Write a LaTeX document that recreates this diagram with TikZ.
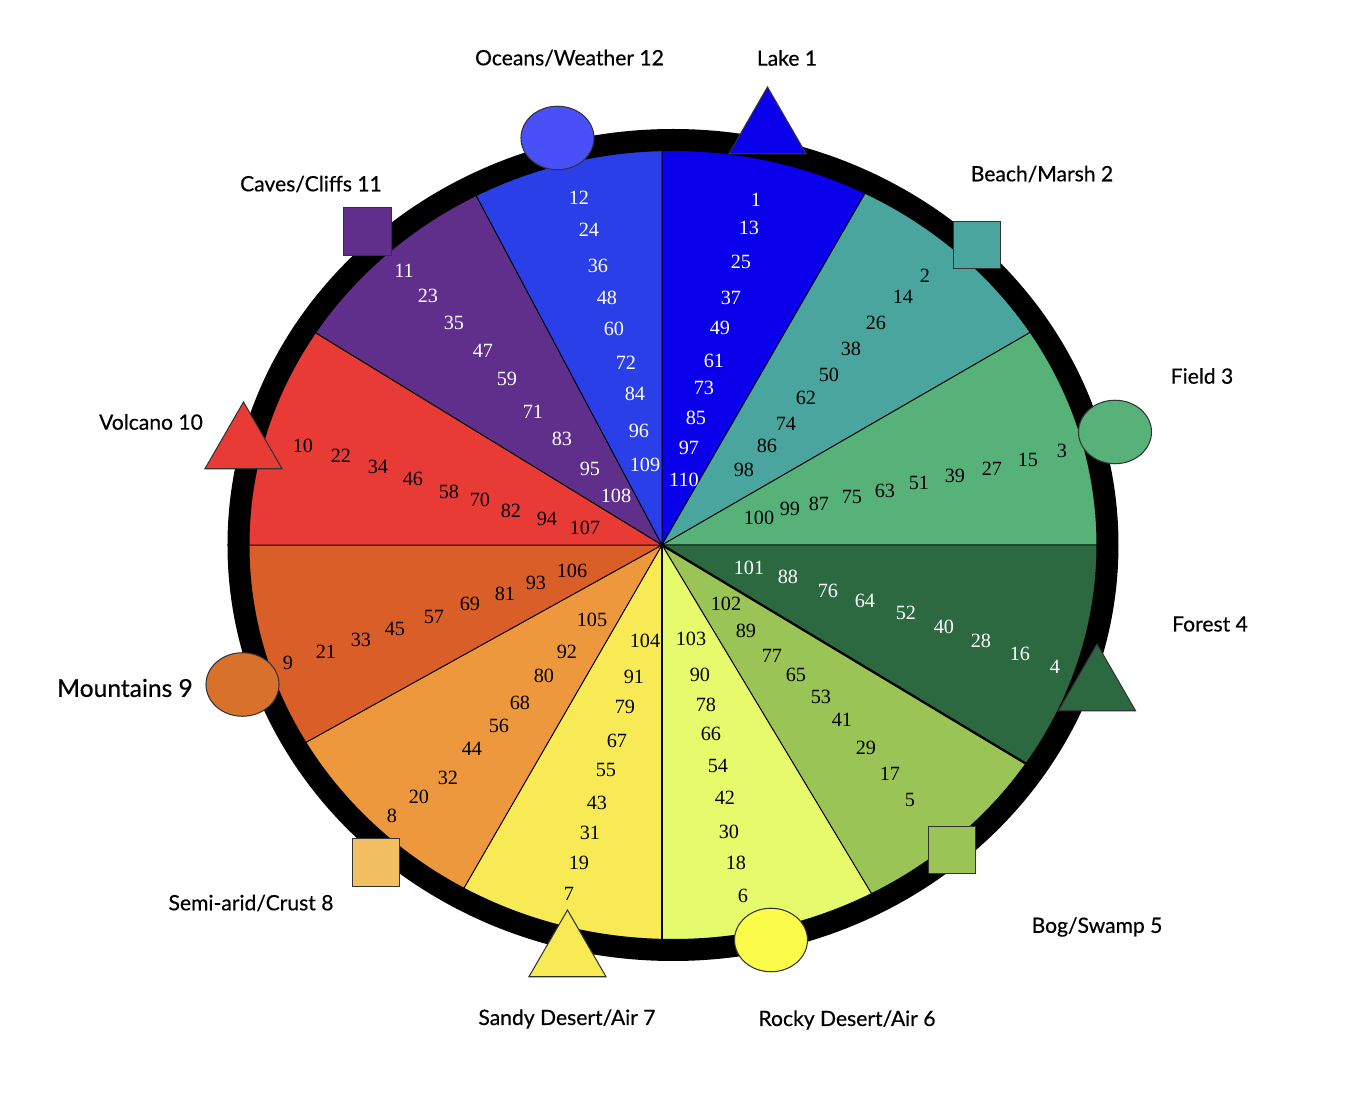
\documentclass[tikz,border=0pt]{standalone}
\usepackage{fontspec}
\setmainfont{Liberation Serif}
\newfontfamily\labelfont[FakeBold=0.5]{Lato}
\usetikzlibrary{shapes.geometric}
\definecolor{cLake}{HTML}{0A00EB}
\definecolor{cBeach}{HTML}{4AA59F}
\definecolor{cField}{HTML}{57B27A}
\definecolor{cForest}{HTML}{2C6940}
\definecolor{cBog}{HTML}{9AC455}
\definecolor{cRocky}{HTML}{E6FB6B}
\definecolor{cRockyMark}{HTML}{FBFB4A}
\definecolor{cSandy}{HTML}{F8EA55}
\definecolor{cSemi}{HTML}{EE983E}
\definecolor{cSemiMark}{HTML}{F2C061}
\definecolor{cMount}{HTML}{DA5E28}
\definecolor{cMountMark}{HTML}{D8722B}
\definecolor{cVolcano}{HTML}{E83B36}
\definecolor{cCaves}{HTML}{5F2F8B}
\definecolor{cOcean}{HTML}{2B3FE8}
\definecolor{cOceanMark}{HTML}{4A50F7}

\begin{document}
\begin{tikzpicture}[
    num/.style={font=\fontsize{11.5}{12}\selectfont, inner sep=0pt},
    numw/.style={num, text=white},
    lbl/.style={font=\labelfont\fontsize{12}{14}\selectfont, inner sep=0pt},
    wedgebox/.style={draw=black, line width=0.5pt},
    tri/.style={regular polygon, regular polygon sides=3, draw=black!80,
                line width=0.6pt, minimum size=1.78cm, inner sep=0pt},
    oval/.style={ellipse, draw=black!80, line width=0.6pt,
                 minimum width=1.46cm, minimum height=1.27cm, inner sep=0pt},
    sq/.style={rectangle, draw=black!80, line width=0.6pt,
               minimum size=0.95cm, inner sep=0pt},
    ring/.style={draw=black, line width=0.44cm},
]
\useasboundingbox (-13.24,-11.50) rectangle (13.88,10.90);

\coordinate (O) at (0,0);      % apex of the wedges
\coordinate (C) at (0.22,0);   % centre of the ring

% ================================================================
%  WEDGES
% ================================================================

\begin{scope}
\clip (C) ellipse [x radius=8.6, y radius=8.0];
\filldraw[wedgebox, fill=cLake]    (O) -- (60:11)    arc[start angle=60,    end angle=90,    radius=11] -- cycle;
\filldraw[wedgebox, fill=cBeach]   (O) -- (30:11)    arc[start angle=30,    end angle=60,    radius=11] -- cycle;
\filldraw[wedgebox, fill=cField]   (O) -- (0:11)     arc[start angle=0,     end angle=30,    radius=11] -- cycle;
\filldraw[wedgebox, fill=cForest]  (O) -- (-31:11)   arc[start angle=-31,   end angle=0,     radius=11] -- cycle;
\filldraw[wedgebox, fill=cBog]     (O) -- (-59:11)   arc[start angle=-59,   end angle=-31,   radius=11] -- cycle;
\filldraw[wedgebox, fill=cRocky]   (O) -- (-90:11)   arc[start angle=-90,   end angle=-59,   radius=11] -- cycle;
\filldraw[wedgebox, fill=cSandy]   (O) -- (-120:11)  arc[start angle=-120,  end angle=-90,   radius=11] -- cycle;
\filldraw[wedgebox, fill=cSemi]    (O) -- (-151:11)  arc[start angle=-151,  end angle=-120,  radius=11] -- cycle;
\filldraw[wedgebox, fill=cMount]   (O) -- (180:11)   arc[start angle=180,   end angle=209,   radius=11] -- cycle;
\filldraw[wedgebox, fill=cVolcano] (O) -- (148.5:11) arc[start angle=148.5, end angle=180,   radius=11] -- cycle;
\filldraw[wedgebox, fill=cCaves]   (O) -- (118:11)   arc[start angle=118,   end angle=148.5, radius=11] -- cycle;
\filldraw[wedgebox, fill=cOcean]   (O) -- (90:11)    arc[start angle=90,    end angle=118,   radius=11] -- cycle;
\draw[line width=1.3pt] (O) -- (-31:11);
\draw[line width=1.3pt] (O) -- (-90:11);
\end{scope}

% outer ring
\draw[ring] (C) ellipse [x radius=8.69, y radius=8.10];

% ================================================================
%  NUMBERS
% ================================================================

\foreach \n/\x/\y in {1/1.88/6.90, 13/1.74/6.34, 25/1.58/5.66, 37/1.38/4.94, 49/1.16/4.34,
    61/1.04/3.68, 73/0.84/3.14, 85/0.68/2.54, 97/0.54/1.94, 110/0.44/1.30}
  \node[numw] (n\n) at (\x,\y) {\n};
\foreach \n/\x/\y in {2/5.26/5.38, 14/4.82/4.96, 26/4.28/4.44, 38/3.78/3.92, 50/3.34/3.40,
    62/2.88/2.94, 74/2.48/2.42, 86/2.10/1.98, 98/1.64/1.50}
  \node[num] (n\n) at (\x,\y) {\n};
\foreach \n/\x/\y in {3/8.00/1.88, 15/7.32/1.70, 27/6.60/1.52, 39/5.86/1.38, 51/5.14/1.24,
    63/4.46/1.08, 75/3.80/0.96, 87/3.14/0.82, 99/2.56/0.72, 100/1.94/0.54}
  \node[num] (n\n) at (\x,\y) {\n};
\foreach \n/\x/\y in {4/7.86/-2.44, 16/7.16/-2.18, 28/6.38/-1.92, 40/5.64/-1.64, 52/4.88/-1.36,
    64/4.06/-1.12, 76/3.32/-0.92, 88/2.52/-0.64, 101/1.74/-0.46}
  \node[numw] (n\n) at (\x,\y) {\n};
\foreach \n/\x/\y in {5/4.96/-5.10, 17/4.56/-4.58, 29/4.08/-4.06, 41/3.60/-3.50, 53/3.18/-3.04,
    65/2.68/-2.60, 77/2.20/-2.22, 89/1.68/-1.72, 102/1.28/-1.18}
  \node[num] (n\n) at (\x,\y) {\n};
\foreach \n/\x/\y in {6/1.62/-7.02, 18/1.48/-6.36, 30/1.34/-5.74, 42/1.26/-5.06, 54/1.12/-4.42,
    66/0.98/-3.78, 78/0.88/-3.20, 90/0.76/-2.60, 103/0.58/-1.88}
  \node[num] (n\n) at (\x,\y) {\n};
\foreach \n/\x/\y in {7/-1.86/-6.98, 19/-1.66/-6.36, 31/-1.44/-5.76, 43/-1.30/-5.16, 55/-1.12/-4.50,
    67/-0.90/-3.92, 79/-0.74/-3.24, 91/-0.56/-2.64, 104/-0.34/-1.92}
  \node[num] (n\n) at (\x,\y) {\n};
\foreach \n/\x/\y in {8/-5.40/-5.42, 20/-4.86/-5.04, 32/-4.28/-4.66, 44/-3.80/-4.08, 56/-3.26/-3.62,
    68/-2.84/-3.16, 80/-2.36/-2.62, 92/-1.90/-2.14, 105/-1.40/-1.50}
  \node[num] (n\n) at (\x,\y) {\n};
\foreach \n/\x/\y in {9/-7.48/-2.36, 21/-6.72/-2.14, 33/-6.02/-1.90, 45/-5.34/-1.68, 57/-4.56/-1.44,
    69/-3.84/-1.18, 81/-3.14/-0.98, 93/-2.52/-0.76, 106/-1.80/-0.52}
  \node[num] (n\n) at (\x,\y) {\n};
\foreach \n/\x/\y in {10/-7.18/1.98, 22/-6.42/1.78, 34/-5.68/1.56, 46/-4.98/1.32, 58/-4.26/1.06,
    70/-3.64/0.90, 82/-3.02/0.68, 94/-2.30/0.52, 107/-1.54/0.34}
  \node[num] (n\n) at (\x,\y) {\n};
\foreach \n/\x/\y in {11/-5.16/5.48, 23/-4.68/4.98, 35/-4.16/4.44, 47/-3.58/3.88, 59/-3.10/3.32,
    71/-2.58/2.66, 83/-2.00/2.12, 95/-1.44/1.52, 108/-0.92/0.98}
  \node[numw] (n\n) at (\x,\y) {\n};
\foreach \n/\x/\y in {12/-1.66/6.94, 24/-1.46/6.30, 36/-1.28/5.58, 48/-1.10/4.94, 60/-0.96/4.32,
    72/-0.72/3.64, 84/-0.54/3.02, 96/-0.46/2.28, 109/-0.34/1.60}
  \node[numw] (n\n) at (\x,\y) {\n};

% ================================================================
%  MARKERS ON THE RING
% ================================================================

\node[tri,  fill=cLake]       (mLake)    at (2.11,8.27)   {};
\node[sq,   fill=cBeach]      (mBeach)   at (6.30,6.00)   {};
\node[oval, fill=cField]      (mField)   at (9.06,2.26)   {};
\node[tri,  fill=cForest]     (mForest)  at (8.70,-2.87)  {};
\node[sq,   fill=cBog]        (mBog)     at (5.80,-6.10)  {};
\node[oval, fill=cRockyMark]  (mRocky)   at (2.18,-7.90)  {};
\node[tri,  fill=cSandy]      (mSandy)   at (-1.89,-8.19) {};
\node[sq,   fill=cSemiMark]   (mSemi)    at (-5.72,-6.35) {};
\node[oval, fill=cMountMark]  (mMount)   at (-8.39,-2.79) {};
\node[tri,  fill=cVolcano]    (mVolcano) at (-8.37,1.97)  {};
\node[sq,   fill=cCaves]      (mCaves)   at (-5.89,6.27)  {};
\node[oval, fill=cOceanMark]  (mOcean)   at (-2.09,8.14)  {};

% ================================================================
%  LABELS
% ================================================================

\node[lbl] (lLake)    at (2.50,9.74)   {Lake 1};
\node[lbl] (lBeach)   at (7.60,7.42)   {Beach/Marsh 2};
\node[lbl] (lField)   at (10.80,3.38)  {Field 3};
\node[lbl] (lForest)  at (10.96,-1.58) {Forest 4};
\node[lbl] (lBog)     at (8.70,-7.64)  {Bog/Swamp 5};
\node[lbl] (lRocky)   at (3.70,-9.50)  {Rocky Desert/Air 6};
\node[lbl] (lSandy)   at (-1.90,-9.48) {Sandy Desert/Air 7};
\node[lbl] (lSemi)    at (-8.22,-7.16) {Semi-arid/Crust 8};
\node[lbl, font=\labelfont\fontsize{14}{16}\selectfont] (lMount) at (-10.74,-2.86) {Mountains 9};
\node[lbl] (lVolcano) at (-10.22,2.46)  {Volcano 10};
\node[lbl] (lCaves)   at (-7.02,7.22)   {Caves/Cliffs 11};
\node[lbl] (lOcean)   at (-1.85,9.74)   {Oceans/Weather 12};

\end{tikzpicture}
\end{document}
